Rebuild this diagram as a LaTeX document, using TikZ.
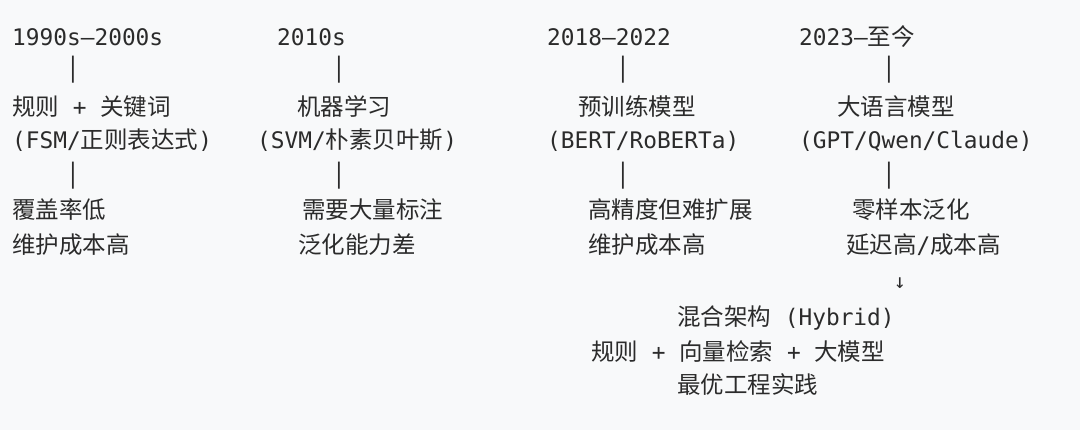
\documentclass[tikz,border=0pt]{standalone}
\usepackage{fontspec}
\setmonofont{DejaVu Sans Mono}
\newfontfamily\cjk[Scale=1.03]{Noto Sans CJK SC}
\newcommand{\zh}[1]{{\cjk #1}}
\definecolor{paper}{HTML}{F8F9FA}
\definecolor{ink}{HTML}{2B2B2B}
\tikzset{
  txt/.style={anchor=base west, inner sep=0pt, text=ink, font=\ttfamily\fontsize{22.8}{27}\selectfont},
  bar/.style={anchor=center, inner sep=0pt, text=ink, font=\ttfamily\fontsize{22.8}{27}\selectfont},
}

\begin{document}
\begin{tikzpicture}[x=1pt,y=-1pt]
% Paper
\fill[paper] (0,0) rectangle (1080,430);
\useasboundingbox (0,0) rectangle (1080,430);
% Rules era
\node[txt] (era1) at (12,45.5) {1990s–2000s};
\node[bar] (bar1a) at (73,70) {│};
\node[txt] (way1) at (12,115.5) {\zh{规则} + \zh{关键词}};
\node[txt] (tool1) at (12,148.5) {(FSM/\zh{正则表达式})};
\node[bar] (bar1b) at (73,176) {│};
\node[txt] (pro1) at (12,218.5) {\zh{覆盖率低}};
\node[txt] (con1) at (12,253.5) {\zh{维护成本高}};
% Machine learning era
\node[txt] (era2) at (277,45.5) {2010s};
\node[bar] (bar2a) at (339,70) {│};
\node[txt] (way2) at (297,115.5) {\zh{机器学习}};
\node[txt] (tool2) at (257,148.5) {(SVM/\zh{朴素贝叶斯})};
\node[bar] (bar2b) at (339,176) {│};
\node[txt] (pro2) at (302,218.5) {\zh{需要大量标注}};
\node[txt] (con2) at (298,253.5) {\zh{泛化能力差}};
% Pretrained era
\node[txt] (era3) at (547,45.5) {2018–2022};
\node[bar] (bar3a) at (623,70) {│};
\node[txt] (way3) at (578,115.5) {\zh{预训练模型}};
\node[txt] (tool3) at (547,148.5) {(BERT/RoBERTa)};
\node[bar] (bar3b) at (623,176) {│};
\node[txt] (pro3) at (588,218.5) {\zh{高精度但难扩展}};
\node[txt] (con3) at (588,253.5) {\zh{维护成本高}};
% LLM era
\node[txt] (era4) at (799,45.5) {2023–\zh{至今}};
\node[bar] (bar4a) at (889,70) {│};
\node[txt] (way4) at (837,115.5) {\zh{大语言模型}};
\node[txt] (tool4) at (799,148.5) {(GPT/Qwen/Claude)};
\node[bar] (bar4b) at (889,176) {│};
\node[txt] (pro4) at (852,218.5) {\zh{零样本泛化}};
\node[txt] (con4) at (846,253.5) {\zh{延迟高}/\zh{成本高}};
% Hybrid
\node[bar, font=\ttfamily\fontsize{20}{24}\selectfont] (down) at (900,283) {↓};
\node[txt] (hyb) at (677,325.5) {\zh{混合架构} (Hybrid)};
\node[txt] (mix) at (591,360.5) {\zh{规则} + \zh{向量检索} + \zh{大模型}};
\node[txt] (best) at (677,393.5) {\zh{最优工程实践}};
\end{tikzpicture}
\end{document}
